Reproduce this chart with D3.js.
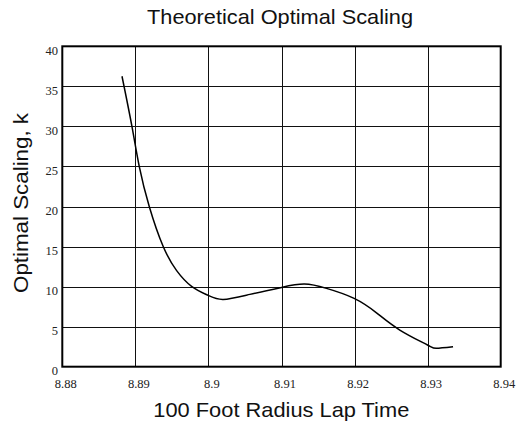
<!DOCTYPE html>
<html><head><meta charset="utf-8">
<script src="https://cdn.jsdelivr.net/npm/d3@7"></script>
<style>body{margin:0;background:#fff}svg{display:block}</style>
</head><body>
<script>
const xTicks = [8.88, 8.89, 8.9, 8.91, 8.92, 8.93, 8.94];
const yTicks = [0, 5, 10, 15, 20, 25, 30, 35, 40];
const lapTime = [8.88817, 8.88953, 8.89053, 8.8919, 8.89381, 8.89565, 8.89774, 8.89997, 8.90202, 8.90567, 8.91, 8.91313, 8.91616, 8.91994, 8.923, 8.92619, 8.92998, 8.93121, 8.93348];
const scaling = [36.26, 30.0, 25.0, 20.0, 15.0, 12.0, 10.0, 8.9, 8.40, 9.03, 9.9, 10.31, 9.78, 8.53, 6.73, 4.58, 2.71, 2.29, 2.49];
const titleText = "Theoretical Optimal Scaling";
const xTitle = "100 Foot Radius Lap Time";
const yTitle = "Optimal Scaling, k";

const W = 518, H = 422;
const L = 62.3, R = 500.7, T = 46.3, B = 366.7;
const svg = d3.select("body").append("svg").attr("width", W).attr("height", H);
const x = d3.scaleLinear().domain([8.88, 8.94]).range([L, R]);
const y = d3.scaleLinear().domain([0, 40]).range([B, T]);
const serif = "'Liberation Serif', 'Times New Roman', 'DejaVu Serif', serif";
const sans = "'Liberation Sans', Arial, sans-serif";

// gridlines
svg.append("g").selectAll("line").data(xTicks.slice(1, -1)).join("line")
  .attr("x1", d => Math.round(x(d)) + 0.5).attr("x2", d => Math.round(x(d)) + 0.5)
  .attr("y1", T).attr("y2", B).attr("stroke", "#111").attr("stroke-width", 1);
svg.append("g").selectAll("line").data(yTicks.slice(1, -1)).join("line")
  .attr("y1", d => Math.round(y(d)) + 0.5).attr("y2", d => Math.round(y(d)) + 0.5)
  .attr("x1", L).attr("x2", R).attr("stroke", "#111").attr("stroke-width", 1);

// frame
svg.append("rect").attr("x", L).attr("y", T).attr("width", R - L).attr("height", B - T)
  .attr("fill", "none").attr("stroke", "#000").attr("stroke-width", 2);

// tick labels
svg.append("g").selectAll("text").data(xTicks).join("text")
  .attr("x", d => x(d) + 3.5).attr("y", 388.3).attr("text-anchor", "middle")
  .style("font-family", serif).attr("font-size", 12.5).attr("fill", "#222").text(d => d3.format("")(d));
svg.append("g").selectAll("text").data(yTicks).join("text")
  .attr("x", 58).attr("y", d => y(d) + 8.7).attr("text-anchor", "end")
  .style("font-family", serif).attr("font-size", 12.5).attr("fill", "#222").text(d => d);

// curve
const pts = lapTime.map((t, i) => [t, scaling[i]]);
svg.append("path").datum(pts)
  .attr("d", d3.line().x(d => x(d[0])).y(d => y(d[1])).curve(d3.curveNatural))
  .attr("fill", "none").attr("stroke", "#000").attr("stroke-width", 1.5);

// titles
svg.append("text").attr("x", 280).attr("y", 24.3).attr("text-anchor", "middle")
  .style("font-family", sans).attr("font-size", 21).attr("fill", "#111")
  .attr("textLength", 266).attr("lengthAdjust", "spacingAndGlyphs").text(titleText);
svg.append("text").attr("x", 281.3).attr("y", 417).attr("text-anchor", "middle")
  .style("font-family", sans).attr("font-size", 21).attr("fill", "#111")
  .attr("textLength", 256).attr("lengthAdjust", "spacingAndGlyphs").text(xTitle);
svg.append("text").attr("transform", "translate(28,203) rotate(-90)").attr("text-anchor", "middle")
  .style("font-family", sans).attr("font-size", 21).attr("fill", "#111")
  .attr("textLength", 180).attr("lengthAdjust", "spacingAndGlyphs").text(yTitle);
</script>
</body></html>
